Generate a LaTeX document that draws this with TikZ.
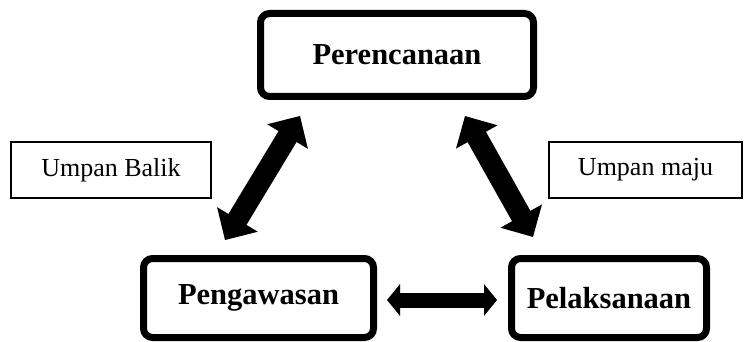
\documentclass[tikz,border=0pt]{standalone}
\usepackage{fontspec}
\setmainfont{Liberation Serif}
\usetikzlibrary{arrows.meta,shadows}
\tikzset{
  bigbox/.style={draw=black, line width=7pt, rounded corners=9pt, fill=white,
    inner sep=0pt,
    drop shadow={shadow xshift=2pt, shadow yshift=-2.5pt, opacity=0.3, fill=black},
    font=\fontsize{30.5}{34}\selectfont\bfseries},
  labbox/.style={draw=black, line width=1.3pt, fill=white, inner sep=0pt,
    font=\fontsize{26}{30}\selectfont},
  dblarrow/.style={line width=21pt, draw=black,
    {Triangle[length=24pt,width=46pt]}-{Triangle[length=24pt,width=46pt]}},
  harrow/.style={line width=15pt, draw=black,
    {Triangle[length=13pt,width=31pt]}-{Triangle[length=13pt,width=31pt]}},
  shade/.style={draw=black, opacity=0.22, shift={(2pt,-2.5pt)}}
}
\begin{document}
\begin{tikzpicture}[x=1pt,y=-1pt]
\useasboundingbox (0,0) rectangle (744,342);
% boxes
\node[bigbox, minimum width=273pt, minimum height=83pt] (per) at (397,55) {Perencanaan};
\node[bigbox, minimum width=230pt, minimum height=79pt] (peng) at (258.5,298) {Pengawasan};
\node[bigbox, minimum width=195pt, minimum height=79pt] (pel) at (609,298) {Pelaksanaan};
\node[labbox, minimum width=200pt, minimum height=56pt] (ub) at (111,170) {Umpan Balik};
\node[labbox, minimum width=193pt, minimum height=56pt] (um) at (645.5,170) {Umpan maju};
% arrow end points
\coordinate (la) at (225,240);
\coordinate (lb) at (300,116);
\coordinate (ra) at (465,116);
\coordinate (rb) at (533,237);
\coordinate (ha) at (387,300);
\coordinate (hb) at (497,300);
% shadows
\draw[dblarrow, shade] (la) -- (lb);
\draw[dblarrow, shade] (ra) -- (rb);
\draw[harrow, shade] (ha) -- (hb);
% arrows
\draw[dblarrow] (la) -- (lb);
\draw[dblarrow] (ra) -- (rb);
\draw[harrow] (ha) -- (hb);
\end{tikzpicture}
\end{document}
